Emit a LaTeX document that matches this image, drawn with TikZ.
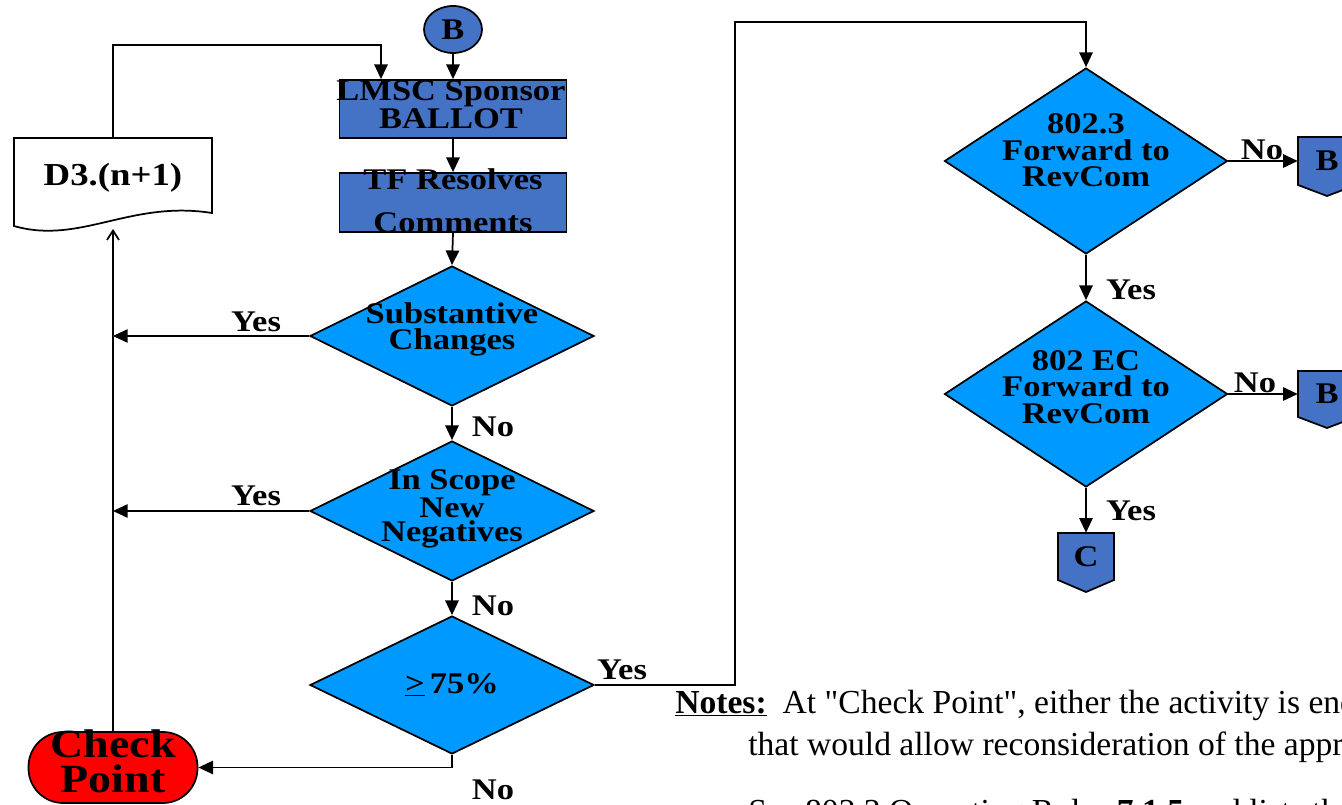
\documentclass[tikz,border=0pt]{standalone}
\usepackage{fontspec}
\setmainfont{Liberation Serif}
\newfontfamily\gb{Liberation Serif}[FakeStretch=1.15]
\newfontfamily\nf{Liberation Serif}
\usetikzlibrary{shapes.geometric,arrows.meta,calc}
\definecolor{boxblue}{RGB}{68,114,196}
\definecolor{dblue}{RGB}{0,153,255}
\definecolor{cpred}{RGB}{255,0,0}
\tikzset{
  ln/.style={line width=1.3pt},
  arr/.style={line width=1.3pt,-{Triangle[length=11pt,width=10pt]}},
  lbl/.style={font=\gb\bfseries\fontsize{22.5}{20}\selectfont,inner sep=0pt},
  txt/.style={font=\gb\bfseries\fontsize{22.5}{20}\selectfont,align=center,inner sep=0pt},
  proc/.style={draw,line width=1.3pt,fill=boxblue,minimum width=170.25pt,minimum height=43.5pt,inner sep=0pt},
  dec/.style={diamond,draw,line width=1.3pt,fill=dblue,inner sep=0pt},
  conn/.style={draw,line width=1.3pt,fill=boxblue},
  note/.style={font=\nf\fontsize{25.2}{28}\selectfont,inner sep=0pt,anchor=base west},
}
\begin{document}
\begin{tikzpicture}[x=0.75pt,y=-0.75pt]
\useasboundingbox (0,0) rectangle (1342,805);

% connector B (top)
\node[ellipse,conn,minimum width=43.5pt,minimum height=35.25pt,inner sep=0pt,font=\gb\bfseries\fontsize{22.5}{20}\selectfont] (btop) at (453,29.5) {B};

% process boxes
\node[proc] (lmsc) at (453,109) {};
\node[txt,font=\gb\bfseries\fontsize{22.5}{19.5}\selectfont] (lmsct) at (451,105) {LMSC Sponsor\\BALLOT};
\node[proc,minimum height=44.25pt] (tf) at (453,202.5) {};
\node[txt,font=\gb\bfseries\fontsize{22.5}{32}\selectfont] (tft) at (453,200.5) {TF Resolves\\Comments};

% decisions
\node[dec,minimum width=213pt,minimum height=105pt] (d1) at (452,336) {};
\node[txt] (d1t) at (452,329.5) {Substantive\\Changes};
\node[dec,minimum width=213pt,minimum height=105pt] (d2) at (452,511) {};
\node[txt,font=\gb\bfseries\fontsize{22.5}{18.4}\selectfont] (d2t) at (452,509) {In Scope\\New\\Negatives};
\node[dec,minimum width=213pt,minimum height=103.5pt] (d3) at (452,685) {};
\node[txt] (d3t) at (452,685) {\underline{>}\,75\%};
\node[dec,minimum width=212.25pt,minimum height=139.5pt] (d4) at (1086,161) {};
\node[txt] (d4t) at (1086,150.5) {802.3\\Forward to\\RevCom};
\node[dec,minimum width=212.25pt,minimum height=139.5pt] (d5) at (1086,394) {};
\node[txt] (d5t) at (1086,387) {802 EC\\Forward to\\RevCom};

% document D3.(n+1)
\draw[ln,fill=white] (14,138) -- (212,138) -- (212,213) .. controls (130,200) and (80,245) .. (14,226) -- cycle;
\node[lbl,minimum width=148.5pt,minimum height=60pt,font=\gb\bfseries\fontsize{24}{24}\selectfont] (doc) at (113,178) {D3.(n+1)};
\coordinate (docin) at (113,229);

% check point
\node[draw,line width=1.3pt,fill=cpred,rounded corners=26pt,minimum width=126.75pt,minimum height=53.25pt] (cp) at (113,767.5) {};
\node[txt,font=\gb\bfseries\fontsize{30}{26}\selectfont] (cpt) at (113,761) {Check\\Point};

% off-page connectors
\draw[conn] (1298,137) -- (1356,137) -- (1356,185) -- (1327,196) -- (1298,185) -- cycle;
\node[lbl,minimum width=43.5pt,minimum height=36pt] (b1) at (1327,161) {B};
\draw[conn] (1298,371) -- (1356,371) -- (1356,417) -- (1327,428) -- (1298,417) -- cycle;
\node[lbl,minimum width=43.5pt,minimum height=34.5pt] (b2) at (1327,394) {B};
\draw[conn] (1058,533) -- (1114,533) -- (1114,580) -- (1086,592) -- (1058,580) -- cycle;
\node[lbl,minimum width=42pt,minimum height=35.25pt] (c) at (1086,556.5) {C};

% connectors
\draw[arr] (btop) -- (lmsc.north);
\coordinate (fb) at (381,45);
\draw[arr] (doc.north) |- (fb) -- (fb |- lmsc.north);
\draw[arr] (lmsc.south) -- (tf.north);
\draw[arr] (tf.south) -- (d1.north);
\draw[arr] (d1.south) -- (d2.north);
\draw[arr] (d2.south) -- (d3.north);
\draw[arr] (d1.west) -- (d1.west -| cp.north);
\draw[arr] (d2.west) -- (d2.west -| cp.north);
\draw[arr] (d3.south) |- (cp.east);
\draw[ln,-{Straight Barb[length=7pt,width=9pt]}] (cp.north) -- (docin);
\coordinate (yr) at (735,22);
\draw[arr] (d3.east) -| (yr) -| (d4.north);
\draw[arr] (d4.east) -- (b1.west);
\draw[arr] (d4.south) -- (d5.north);
\draw[arr] (d5.east) -- (b2.west);
\draw[arr] (d5.south) -- (c.north);

% labels
\node[lbl] (l1) at (256,322) {Yes};
\node[lbl] (l2) at (493,427) {No};
\node[lbl] (l3) at (256,496) {Yes};
\node[lbl] (l4) at (493,606) {No};
\node[lbl] (l5) at (622,670) {Yes};
\node[lbl] (l6) at (493,790) {No};
\node[lbl] (l7) at (1262,150) {No};
\node[lbl] (l8) at (1131,290) {Yes};
\node[lbl] (l9) at (1255,383) {No};
\node[lbl] (l10) at (1131,511) {Yes};

% notes
\node[note] (n1) at (675,713) {\underline{\textbf{Notes:}}\hspace{12pt}At "Check Point", either the activity is ended or a new ballot};
\node[note] (n2) at (748,755) {that would allow reconsideration of the approval};
\node[note] (n3) at (748,822) {See 802.3 Operating Rules \textbf{7.1.5} and lists the};
\end{tikzpicture}
\end{document}
